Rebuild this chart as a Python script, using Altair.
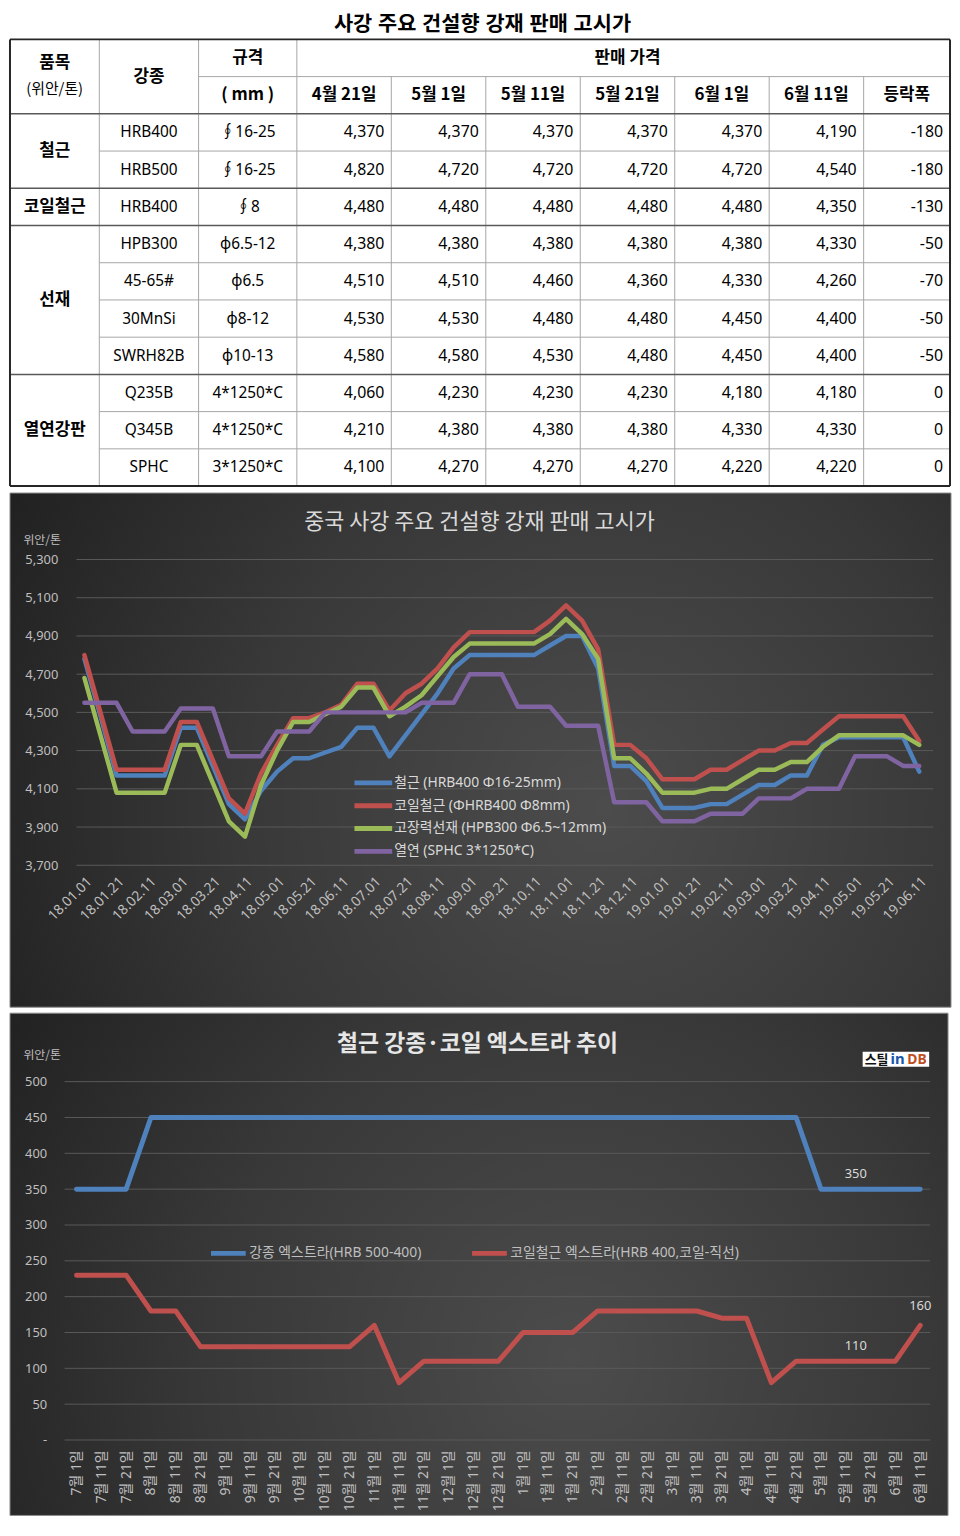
import altair as alt
import pandas as pd

FONT = "Noto Sans, Noto Sans CJK KR"
KFONT = "Noto Sans CJK KR"
LABEL_C = "#bfbfbf"
TEXT_C = "#d9d9d9"

# ======================= TABLE DATA =======================
table_title = "사강 주요 건설향 강재 판매 고시가"
head_item = ["품목", "(위안/톤)"]
head_grade = "강종"
head_spec = ["규격", "( mm )"]
head_price = "판매 가격"
price_dates = ["4월 21일", "5월 1일", "5월 11일", "5월 21일", "6월 1일", "6월 11일"]
head_change = "등락폭"
groups = ["철근", "코일철근", "선재", "열연강판"]
group_rows = [2, 1, 4, 3]
grades = ["HRB400", "HRB500", "HRB400", "HPB300", "45-65#", "30MnSi", "SWRH82B", "Q235B", "Q345B", "SPHC"]
specs = ["∮16-25", "∮16-25", "∮8", "φ6.5-12", "φ6.5", "φ8-12", "φ10-13", "4*1250*C", "4*1250*C", "3*1250*C"]
p_0421 = [4370, 4820, 4480, 4380, 4510, 4530, 4580, 4060, 4210, 4100]
p_0501 = [4370, 4720, 4480, 4380, 4510, 4530, 4580, 4230, 4380, 4270]
p_0511 = [4370, 4720, 4480, 4380, 4460, 4480, 4530, 4230, 4380, 4270]
p_0521 = [4370, 4720, 4480, 4380, 4360, 4480, 4480, 4230, 4380, 4270]
p_0601 = [4370, 4720, 4480, 4380, 4330, 4450, 4450, 4180, 4330, 4220]
p_0611 = [4190, 4540, 4350, 4330, 4260, 4400, 4400, 4180, 4330, 4220]
changes = [-180, -180, -130, -50, -70, -50, -50, 0, 0, 0]

# ======================= CHART 2 DATA =======================
c2_title = "중국 사강 주요 건설향 강재 판매 고시가"
c2_unit = "위안/톤"
c2_dates = [
    "18.01.01", "18.01.11", "18.01.21", "18.02.01", "18.02.11", "18.02.21",
    "18.03.01", "18.03.11", "18.03.21", "18.04.01", "18.04.11", "18.04.21",
    "18.05.01", "18.05.11", "18.05.21", "18.06.01", "18.06.11", "18.06.21",
    "18.07.01", "18.07.11", "18.07.21", "18.08.01", "18.08.11", "18.08.21",
    "18.09.01", "18.09.11", "18.09.21", "18.10.01", "18.10.11", "18.10.21",
    "18.11.01", "18.11.11", "18.11.21", "18.12.01", "18.12.11", "18.12.21",
    "19.01.01", "19.01.11", "19.01.21", "19.02.01", "19.02.11", "19.02.21",
    "19.03.01", "19.03.11", "19.03.21", "19.04.01", "19.04.11", "19.04.21",
    "19.05.01", "19.05.11", "19.05.21", "19.06.01", "19.06.11"]
c2_ticks_x = [
    "18.01.01", "18.01.21", "18.02.11", "18.03.01", "18.03.21", "18.04.11",
    "18.05.01", "18.05.21", "18.06.11", "18.07.01", "18.07.21", "18.08.11",
    "18.09.01", "18.09.21", "18.10.11", "18.11.01", "18.11.21", "18.12.11",
    "19.01.01", "19.01.21", "19.02.11", "19.03.01", "19.03.21", "19.04.11",
    "19.05.01", "19.05.21", "19.06.11"]
c2_ticks_y = [3700, 3900, 4100, 4300, 4500, 4700, 4900, 5100, 5300]
c2_names = ["철근 (HRB400 Φ16-25mm)", "코일철근 (ΦHRB400 Φ8mm)",
            "고장력선재 (HPB300 Φ6.5~12mm)", "열연 (SPHC 3*1250*C)"]
c2_colors = ["#4F81BD", "#C0504D", "#9BBB59", "#8064A2"]
rebar = [4780, 4480, 4170, 4170, 4170, 4170, 4420, 4420, 4220, 4020, 3940, 4090,
         4190, 4260, 4260, 4290, 4320, 4420, 4420, 4270, 4380, 4490, 4600, 4730,
         4800, 4800, 4800, 4800, 4800, 4850, 4900, 4900, 4730, 4220, 4220, 4140,
         4000, 4000, 4000, 4020, 4020, 4070, 4120, 4120, 4170, 4170, 4330, 4370,
         4370, 4370, 4370, 4370, 4190]
coil = [4800, 4500, 4200, 4200, 4200, 4200, 4450, 4450, 4250, 4050, 3970, 4180,
        4330, 4470, 4470, 4500, 4540, 4650, 4650, 4510, 4600, 4650, 4730, 4840,
        4920, 4920, 4920, 4920, 4920, 4980, 5060, 4980, 4830, 4330, 4330, 4260,
        4150, 4150, 4150, 4200, 4200, 4250, 4300, 4300, 4340, 4340, 4410, 4480,
        4480, 4480, 4480, 4480, 4350]
wire = [4680, 4380, 4080, 4080, 4080, 4080, 4330, 4330, 4130, 3930, 3850, 4120,
        4300, 4450, 4450, 4490, 4530, 4630, 4630, 4480, 4530, 4590, 4690, 4790,
        4860, 4860, 4860, 4860, 4860, 4910, 4990, 4910, 4780, 4260, 4260, 4180,
        4080, 4080, 4080, 4100, 4100, 4150, 4200, 4200, 4240, 4240, 4320, 4380,
        4380, 4380, 4380, 4380, 4330]
hrc = [4550, 4550, 4550, 4400, 4400, 4400, 4520, 4520, 4520, 4270, 4270, 4270,
       4400, 4400, 4400, 4500, 4500, 4500, 4500, 4500, 4500, 4550, 4550, 4550,
       4700, 4700, 4700, 4530, 4530, 4530, 4430, 4430, 4430, 4030, 4030, 4030,
       3930, 3930, 3930, 3970, 3970, 3970, 4050, 4050, 4050, 4100, 4100, 4100,
       4270, 4270, 4270, 4220, 4220]

# ======================= CHART 3 DATA =======================
c3_title = "철근 강종·코일 엑스트라 추이"
c3_unit = "위안/톤"
c3_dates = [
    "7월 1일", "7월 11일", "7월 21일", "8월 1일", "8월 11일", "8월 21일",
    "9월 1일", "9월 11일", "9월 21일", "10월 1일", "10월 11일", "10월 21일",
    "11월 1일", "11월 11일", "11월 21일", "12월 1일", "12월 11일", "12월 21일",
    "1월 1일", "1월 11일", "1월 21일", "2월 1일", "2월 11일", "2월 21일",
    "3월 1일", "3월 11일", "3월 21일", "4월 1일", "4월 11일", "4월 21일",
    "5월 1일", "5월 11일", "5월 21일", "6월 1일", "6월 11일"]
c3_ticks_y = [0, 50, 100, 150, 200, 250, 300, 350, 400, 450, 500]
c3_names = ["강종 엑스트라(HRB 500-400)", "코일철근 엑스트라(HRB 400,코일-직선)"]
c3_colors = ["#4F81BD", "#C0504D"]
grade_extra = [350, 350, 350, 450, 450, 450, 450, 450, 450, 450, 450, 450,
               450, 450, 450, 450, 450, 450, 450, 450, 450, 450, 450, 450,
               450, 450, 450, 450, 450, 450, 350, 350, 350, 350, 350]
coil_extra = [230, 230, 230, 180, 180, 130, 130, 130, 130, 130, 130, 130,
              160, 80, 110, 110, 110, 110, 150, 150, 150, 180, 180, 180,
              180, 180, 170, 170, 80, 110, 110, 110, 110, 110, 160]
c3_label_mid = "5월 11일"
c3_label_end = "6월 11일"
logo_parts = ["스틸", "in", "DB"]

one = pd.DataFrame({"k": [0]})

# ======================= PANEL 1 : TABLE =======================
T_W, T_H = 947, 450
x_t = alt.Scale(domain=[0, 1, 2, 3, 9, 10], range=[0, 90, 190, 289, 860, T_W])
y_t = alt.Scale(domain=[0, 12], range=[0, T_H])

bold_cells, norm_cells, num_cells = [], [], []


def cell(lst, t, r0, r1, c0, c1):
    lst.append({"t": t, "xc": (c0 + c1) / 2, "yc": (r0 + r1) / 2, "xr": c1})


cell(bold_cells, head_grade, 0, 2, 1, 2)
cell(bold_cells, head_spec[0], 0, 1, 2, 3)
cell(bold_cells, head_spec[1], 1, 2, 2, 3)
cell(bold_cells, head_price, 0, 1, 3, 10)
for j, d in enumerate(price_dates):
    cell(bold_cells, d, 1, 2, 3 + j, 4 + j)
cell(bold_cells, head_change, 1, 2, 9, 10)
r = 2
for g, n in zip(groups, group_rows):
    cell(bold_cells, g, r, r + n, 0, 1)
    r += n
for i, (gr, sp) in enumerate(zip(grades, specs)):
    cell(norm_cells, gr, 2 + i, 3 + i, 1, 2)
    cell(norm_cells, sp, 2 + i, 3 + i, 2, 3)
for j, col in enumerate([p_0421, p_0501, p_0511, p_0521, p_0601, p_0611]):
    for i, v in enumerate(col):
        cell(num_cells, f"{v:,}", 2 + i, 3 + i, 3 + j, 4 + j)
for i, v in enumerate(changes):
    cell(num_cells, f"{v}", 2 + i, 3 + i, 9, 10)
item_top = [{"t": head_item[0], "xc": 0.5, "yc": 1.0}]
item_bot = [{"t": head_item[1], "xc": 0.5, "yc": 1.0}]

thin, grp, outer = [], [], []


def hl(lst, y, x0, x1):
    lst.append({"x0": x0, "x1": x1, "y0": y, "y1": y})


def vl(lst, x, y0, y1):
    lst.append({"x0": x, "x1": x, "y0": y0, "y1": y1})


hl(thin, 1, 2, 10)
hl(grp, 2, 0, 10)
r = 2
for k, n in enumerate(group_rows):
    for m in range(1, n):
        hl(thin, r + m, 1, 10)
    r += n
    if k < len(group_rows) - 1:
        hl(grp, r, 0, 10)
for c in (1, 2, 3):
    vl(thin, c, 0, 12)
for c in range(4, 10):
    vl(thin, c, 1, 12)
hl(outer, 0, 0, 10)
hl(outer, 12, 0, 10)
vl(outer, 0, 0, 12)
vl(outer, 10, 0, 12)


def rule_layer(rows, color, width):
    return alt.Chart(pd.DataFrame(rows)).mark_rule(color=color, strokeWidth=width).encode(
        x=alt.X("x0:Q", scale=x_t, axis=None), x2="x1:Q",
        y=alt.Y("y0:Q", scale=y_t, axis=None), y2="y1:Q")


def text_layer(rows, xfield, **mk):
    return alt.Chart(pd.DataFrame(rows)).mark_text(**mk).encode(
        x=alt.X(f"{xfield}:Q", scale=x_t, axis=None),
        y=alt.Y("yc:Q", scale=y_t, axis=None),
        text="t:N")


p1_bg = alt.Chart(one).mark_rect(fill="white").encode(
    x=alt.value(0), x2=alt.value(T_W), y=alt.value(-25), y2=alt.value(T_H))
p1_title = alt.Chart(one).mark_text(
    text=table_title, font="Liberation Sans, Noto Sans CJK KR", fontSize=21, fontWeight="bold",
    color="#000000", align="center", baseline="top").encode(x=alt.value(476), y=alt.value(-25))

panel1 = alt.layer(
    p1_bg, p1_title,
    rule_layer(thin, "#a6a6a6", 1),
    rule_layer(grp, "#595959", 1.5),
    rule_layer(outer, "#262626", 2),
    text_layer(bold_cells, "xc", font=KFONT, fontSize=17, fontWeight="bold", color="#000000",
               align="center", baseline="middle"),
    text_layer(item_top, "xc", font=KFONT, fontSize=17, fontWeight="bold", color="#000000",
               align="center", baseline="middle", dy=-14),
    text_layer(item_bot, "xc", font=KFONT, fontSize=15, color="#000000",
               align="center", baseline="middle", dy=13),
    text_layer(norm_cells, "xc", font=FONT, fontSize=15.5, color="#000000",
               align="center", baseline="middle"),
    text_layer(num_cells, "xr", font=FONT, fontSize=16, color="#000000",
               align="right", baseline="middle", dx=-7),
).properties(width=T_W, height=T_H)

# ======================= PANEL 2 =======================
P2_W, P2_H = 948, 518          # whole dark panel
W2, H2 = 930, 375              # plot area: from panel's top-left corner to grid end / lowest grid line
grad2 = {"gradient": "radial",
         "stops": [{"offset": 0, "color": "#4c4c4c"}, {"offset": 0.5, "color": "#383838"},
                   {"offset": 1, "color": "#1c1c1c"}],
         "x1": 0.63, "y1": 0.56, "r1": 0, "x2": 0.63, "y2": 0.56, "r2": 0.78}

rows2 = []
for name, vals in zip(c2_names, [rebar, coil, wire, hrc]):
    for i, (d, v) in enumerate(zip(c2_dates, vals)):
        rows2.append({"date": d, "value": v, "series": name, "idx": i})
df2 = pd.DataFrame(rows2)

y2_enc = alt.Y("value:Q", scale=alt.Scale(domain=[3700, 5300], range=[H2, 67], nice=False, zero=False),
               axis=alt.Axis(values=c2_ticks_y, format=",.0f", grid=False, domain=False, ticks=False,
                             tickSize=0, labelAlign="left", labelPadding=-15, labelColor=LABEL_C,
                             labelFont=FONT, labelFontSize=13, title=c2_unit, titleAngle=0,
                             titleX=13, titleY=47, titleAlign="left", titleBaseline="middle",
                             titleFont=KFONT, titleFontSize=12, titleFontWeight="normal",
                             titleColor=LABEL_C, zindex=1))
x2_enc = alt.X("date:N", sort=c2_dates, scale=alt.Scale(type="point", range=[75, 916], padding=0),
               axis=alt.Axis(values=c2_ticks_x, labelAngle=315, grid=False, domain=False,
                             ticks=False, tickSize=0, labelPadding=9, labelColor=LABEL_C,
                             labelFont=FONT, labelFontSize=14, labelOverlap=False,
                             title=None, zindex=1))

p2_bg = alt.Chart(one).mark_rect(fill=grad2, stroke="#8c8c8c", strokeWidth=1).encode(
    x=alt.value(0), x2=alt.value(P2_W), y=alt.value(0), y2=alt.value(P2_H))
p2_grid = alt.Chart(pd.DataFrame({"value": c2_ticks_y})).mark_rule(
    color="#5a5a5a", strokeWidth=1).encode(y=y2_enc, x=alt.value(67), x2=alt.value(W2))
p2_lines = alt.Chart(df2).mark_line(strokeWidth=4.5, strokeJoin="round", strokeCap="round").encode(
    x=x2_enc, y=y2_enc, order=alt.Order("idx:Q"),
    color=alt.Color("series:N", scale=alt.Scale(domain=c2_names, range=c2_colors),
                    legend=alt.Legend(orient="none", legendX=354, legendY=280,
                                      direction="vertical", title=None, symbolType="M-2,0L2,0",
                                      symbolSize=361, symbolStrokeWidth=5, labelFont=FONT,
                                      labelFontSize=14, labelColor=TEXT_C, labelOffset=9,
                                      labelLimit=400, rowPadding=1, padding=0, zindex=1)))
p2_title = alt.Chart(one).mark_text(
    text=c2_title, font=KFONT, fontSize=22, color=TEXT_C, align="center",
    baseline="middle").encode(x=alt.value(473), y=alt.value(29))

panel2 = alt.layer(p2_bg, p2_grid, p2_lines, p2_title).properties(width=W2, height=H2)

# ======================= PANEL 3 =======================
P3_W, P3_H = 945, 506
W3, H3 = 927, 430
grad3 = {"gradient": "radial",
         "stops": [{"offset": 0, "color": "#4c4c4c"}, {"offset": 0.5, "color": "#383838"},
                   {"offset": 1, "color": "#1c1c1c"}],
         "x1": 0.6, "y1": 0.6, "r1": 0, "x2": 0.6, "y2": 0.6, "r2": 0.78}

rows3 = []
for name, vals in zip(c3_names, [grade_extra, coil_extra]):
    for i, (d, v) in enumerate(zip(c3_dates, vals)):
        rows3.append({"date": d, "value": v, "series": name, "idx": i})
df3 = pd.DataFrame(rows3)

y3_enc = alt.Y("value:Q", scale=alt.Scale(domain=[0, 500], range=[H3, 69], nice=False),
               axis=alt.Axis(values=c3_ticks_y, grid=False, domain=False, ticks=False, tickSize=0,
                             labelAlign="right", labelPadding=-37, labelColor=LABEL_C, labelFont=FONT,
                             labelFontSize=13,
                             labelExpr="datum.value == 0 ? '-' : datum.label",
                             title=c3_unit, titleAngle=0, titleX=13, titleY=42,
                             titleAlign="left", titleBaseline="middle", titleFont=KFONT,
                             titleFontSize=12, titleFontWeight="normal", titleColor=LABEL_C,
                             zindex=1))
x3_enc = alt.X("date:N", sort=c3_dates, scale=alt.Scale(type="point", range=[67, 917], padding=0),
               axis=alt.Axis(labelAngle=270, grid=False, domain=False, ticks=False, tickSize=0,
                             labelPadding=10, labelColor=LABEL_C, labelFont=FONT, labelFontSize=14,
                             labelOverlap=False, title=None, zindex=1))

p3_bg = alt.Chart(one).mark_rect(fill=grad3, stroke="#8c8c8c", strokeWidth=1).encode(
    x=alt.value(0), x2=alt.value(P3_W), y=alt.value(0), y2=alt.value(P3_H))
p3_grid = alt.Chart(pd.DataFrame({"value": c3_ticks_y})).mark_rule(
    color="#5a5a5a", strokeWidth=1).encode(y=y3_enc, x=alt.value(55), x2=alt.value(W3))
p3_lines = alt.Chart(df3).mark_line(strokeWidth=5, strokeJoin="round", strokeCap="round").encode(
    x=x3_enc, y=y3_enc, order=alt.Order("idx:Q"),
    color=alt.Color("series:N", scale=alt.Scale(domain=c3_names, range=c3_colors),
                    legend=alt.Legend(orient="none", legendX=200, legendY=222,
                                      direction="horizontal", columns=2, columnPadding=40,
                                      title=None, symbolType="stroke", symbolSize=1225,
                                      symbolStrokeWidth=5, labelFont=FONT, labelFontSize=14,
                                      labelColor=LABEL_C, labelOffset=1, labelLimit=400,
                                      padding=0, zindex=1)))
p3_lab_mid = alt.Chart(df3[df3["date"] == c3_label_mid]).mark_text(
    font=FONT, fontSize=13, color=TEXT_C, align="center", baseline="middle", dx=10, dy=-15).encode(
    x=x3_enc, y=y3_enc, text=alt.Text("value:Q", format="d"))
p3_lab_end = alt.Chart(df3[(df3["date"] == c3_label_end) & (df3["series"] == c3_names[1])]).mark_text(
    font=FONT, fontSize=13, color=TEXT_C, align="center", baseline="middle", dy=-19).encode(
    x=x3_enc, y=y3_enc, text=alt.Text("value:Q", format="d"))
p3_title = alt.Chart(one).mark_text(
    text=c3_title, font=KFONT, fontSize=23, fontWeight="bold", color="#e6e6e6", align="center",
    baseline="middle").encode(x=alt.value(471), y=alt.value(31))
logo_bg = alt.Chart(one).mark_rect(fill="white").encode(
    x=alt.value(859), x2=alt.value(926), y=alt.value(39), y2=alt.value(54))
logo1 = alt.Chart(one).mark_text(text=logo_parts[0], font=KFONT, fontSize=13, fontWeight="bold",
                                 color="#111111", align="left", baseline="middle").encode(
    x=alt.value(861), y=alt.value(47))
logo2 = alt.Chart(one).mark_text(text=logo_parts[1], font="Noto Sans", fontSize=15, fontWeight="bold",
                                 color="#1a56a8", align="left", baseline="middle").encode(
    x=alt.value(887), y=alt.value(46))
logo3 = alt.Chart(one).mark_text(text=logo_parts[2], font="Noto Sans", fontSize=14, fontWeight="bold",
                                 color="#c0501f", align="left", baseline="middle").encode(
    x=alt.value(904), y=alt.value(47))

panel3 = alt.layer(p3_bg, p3_grid, p3_lines, p3_lab_mid, p3_lab_end, p3_title,
                   logo_bg, logo1, logo2, logo3).properties(width=W3, height=H3)

chart = alt.vconcat(panel1, panel2, panel3, spacing=4).resolve_scale(
    color="independent").properties(
    padding={"left": 0, "top": 0, "right": 0, "bottom": 0}, background="white"
).configure(padding={"left": 0, "top": 0, "right": 0, "bottom": 0}).configure_view(stroke="transparent")

chart.save("out.html", embed_options={"renderer": "svg", "actions": False})
